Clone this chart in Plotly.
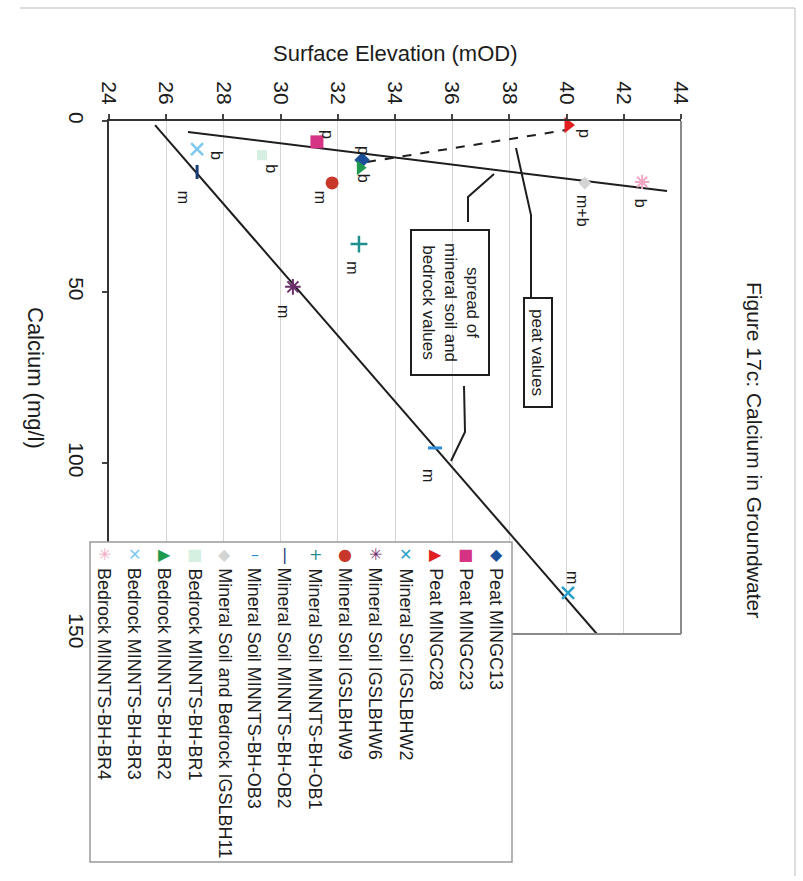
import plotly.graph_objects as go

# ---------------- data ----------------
elev_ticks = [24, 26, 28, 30, 32, 34, 36, 38, 40, 42, 44]
calcium_ticks = [0, 50, 100, 150]

series_names = [
    "Peat MINGC13", "Peat MINGC23", "Peat MINGC28",
    "Mineral Soil IGSLBHW2", "Mineral Soil IGSLBHW6", "Mineral Soil IGSLBHW9",
    "Mineral Soil MINNTS-BH-OB1", "Mineral Soil MINNTS-BH-OB2", "Mineral Soil MINNTS-BH-OB3",
    "Mineral Soil and Bedrock IGSLBH11",
    "Bedrock MINNTS-BH-BR1", "Bedrock MINNTS-BH-BR2", "Bedrock MINNTS-BH-BR3", "Bedrock MINNTS-BH-BR4",
]
series_elevation = [32.85, 31.27, 40.05, 40.05, 30.43, 31.80, 32.74, 27.08, 35.40, 40.64, 29.35, 32.78, 27.08, 42.64]
series_calcium = [11.4, 6.1, 1.2, 138.0, 48.5, 18.1, 36.0, 14.9, 95.6, 18.1, 10.0, 13.7, 8.2, 17.8]
series_tags = ["p", "p", "p", "m", "m", "m", "m", "m", "m", "m+b", "b", "b", "b", "b"]

mineral_trend_elev = [25.61, 41.06]
mineral_trend_ca = [1.2, 150.0]
mb_trend_elev = [26.76, 43.51]
mb_trend_ca = [3.2, 20.5]
peat_link_elev = [33.02, 40.01]
peat_link_ca = [12.0, 2.6]

# ---------------- styles ----------------
symbols = ["diamond", "square", "triangle-right", "x-thin-open", "asterisk-open", "circle",
           "cross-thin-open", "line-ns-open", "line-ew-open", "diamond", "square",
           "triangle-right", "x-thin-open", "asterisk-open"]
colors = ["#1b4f9a", "#d63384", "#e02020", "#2a9fc8", "#6b2c6b", "#c8382a",
          "#1f8f8f", "#1a3d7a", "#2f8ed8", "#d4d4d4", "#d5efe0",
          "#1e9a4e", "#7cc8f0", "#f0a8c4"]
sizes = [12, 13, 14, 12, 13, 13, 12, 10, 10, 10, 10, 13, 12, 12]
line_w = [0, 0, 0, 2.5, 2, 0, 2.5, 3, 3, 0, 0, 0, 2.5, 2]
tag_shift = [(1, 10), (10, 7), (17, -8), (4, 16), (-10, -25), (-12, -14), (-6, -24),
             (-14, -25), (-7, -27), (-3, -28), (10, -13), (3, -10), (20, -6), (-2, -21)]
legend_glyphs = ["◆", "■", "▶", "✕", "✳", "●", "+", "|", "–", "◆", "■", "▶", "✕", "✳"]

FONT = "Liberation Sans, Arial, sans-serif"
TXT = "#1c1c1c"

# plot area in pixels
L, T, R, B = 109, 121, 681, 634
W_FIG, H_FIG = 803, 881


def px(x):
    return (x - L) / (R - L)


def py(y):
    return (B - y) / (B - T)


fig = go.Figure()

# trend lines
fig.add_trace(go.Scatter(x=mineral_trend_elev, y=mineral_trend_ca, mode="lines",
                         line=dict(color="#1e1e1e", width=2), showlegend=False, hoverinfo="skip"))
fig.add_trace(go.Scatter(x=mb_trend_elev, y=mb_trend_ca, mode="lines",
                         line=dict(color="#1e1e1e", width=2), showlegend=False, hoverinfo="skip"))
fig.add_trace(go.Scatter(x=peat_link_elev, y=peat_link_ca, mode="lines",
                         line=dict(color="#1e1e1e", width=2, dash="dash"), showlegend=False,
                         hoverinfo="skip"))

# data points
for i, name in enumerate(series_names):
    fig.add_trace(go.Scatter(
        x=[series_elevation[i]], y=[series_calcium[i]], mode="markers", name=name,
        marker=dict(symbol=symbols[i], color=colors[i], size=sizes[i],
                    line=dict(width=line_w[i], color=colors[i])),
        showlegend=False, cliponaxis=False))

annotations = []
# point tags
for i in range(len(series_names)):
    dx, dy = tag_shift[i]
    annotations.append(dict(x=series_elevation[i], y=series_calcium[i], xref="x", yref="y",
                            text=series_tags[i], showarrow=False, textangle=90,
                            xanchor="center", yanchor="middle",
                            xshift=dx, yshift=dy, font=dict(family=FONT, size=16, color=TXT)))


def paper_text(x, y, text, size, angle=0, **kw):
    d = dict(x=px(x), y=py(y), xref="paper", yref="paper", text=text, showarrow=False,
             textangle=angle, xanchor="center", yanchor="middle",
             font=dict(family=FONT, size=size, color=TXT))
    d.update(kw)
    return d


# titles
annotations.append(paper_text(755, 450, "Figure 17c: Calcium in Groundwater", 21, 90))
annotations.append(paper_text(395, 53, "Surface Elevation (mOD)", 22))
annotations.append(paper_text(36, 378, "Calcium (mg/l)", 22, 90))

# callout boxes text
annotations.append(paper_text(538, 352, "peat values", 17, 90))
annotations.append(paper_text(451, 302, "spread of<br>mineral soil and<br>bedrock values", 17, 90,
                              align="center"))

# legend entries
for i, name in enumerate(series_names):
    cx = 496 - i * 30.15
    annotations.append(paper_text(cx, 566, name, 18, 90, yanchor="top"))
    annotations.append(dict(x=px(cx), y=py(554), xref="paper", yref="paper",
                            text=legend_glyphs[i], showarrow=False, xanchor="center",
                            yanchor="middle",
                            font=dict(family="DejaVu Sans", size=16, color=colors[i])))

shapes = []
# faint outer chart border (top and right edges visible in the scan)
shapes.append(dict(type="line", xref="paper", yref="paper", x0=px(20), x1=px(795),
                   y0=py(8), y1=py(8), line=dict(color="#d2d2d2", width=1.5)))
shapes.append(dict(type="line", xref="paper", yref="paper", x0=px(795), x1=px(795),
                   y0=py(8), y1=py(876), line=dict(color="#d2d2d2", width=1.5)))
# plot frame (right & bottom)
shapes.append(dict(type="line", xref="paper", yref="paper", x0=1, x1=1, y0=0, y1=1,
                   line=dict(color="#8a8a8a", width=2)))
shapes.append(dict(type="line", xref="paper", yref="paper", x0=0, x1=1, y0=0, y1=0,
                   line=dict(color="#8a8a8a", width=2)))


def path_from(points):
    return "M " + " L ".join(f"{px(a):.5f},{py(b):.5f}" for a, b in points)


# callout connectors
for pts in ([(516, 148), (531, 215), (531, 297)],
            [(494, 174), (468, 197), (468, 222)],
            [(464, 386), (465, 432), (451, 461)]):
    shapes.append(dict(type="path", xref="paper", yref="paper", path=path_from(pts),
                       line=dict(color="#1e1e1e", width=2)))
# callout boxes
shapes.append(dict(type="rect", xref="paper", yref="paper", x0=px(524), x1=px(552),
                   y0=py(407), y1=py(298), line=dict(color="#1e1e1e", width=2)))
shapes.append(dict(type="rect", xref="paper", yref="paper", x0=px(411), x1=px(489),
                   y0=py(375), y1=py(230), line=dict(color="#1e1e1e", width=2)))
# legend box
shapes.append(dict(type="rect", xref="paper", yref="paper", x0=px(90), x1=px(512),
                   y0=py(862), y1=py(542), fillcolor="white", layer="above",
                   line=dict(color="#9a9a9a", width=1.5)))

fig.update_layout(
    width=W_FIG, height=H_FIG,
    margin=dict(l=L, r=W_FIG - R, t=T, b=H_FIG - B, pad=0),
    paper_bgcolor="white", plot_bgcolor="white",
    showlegend=False,
    annotations=annotations, shapes=shapes,
    xaxis=dict(range=[24, 44], side="top", tickmode="array", tickvals=elev_ticks,
               ticktext=[str(v) for v in elev_ticks], tickangle=90,
               ticks="outside", ticklen=5, tickcolor="#444", tickwidth=1.5,
               showline=True, linecolor="#333", linewidth=2, mirror=False,
               showgrid=True, gridcolor="#d4d4d4", gridwidth=1, zeroline=False,
               tickfont=dict(family=FONT, size=21, color=TXT), ticklabelstandoff=2),
    yaxis=dict(range=[150, 0], tickmode="array", tickvals=calcium_ticks,
               ticktext=[str(v) for v in calcium_ticks], tickangle=90,
               ticks="outside", ticklen=5, tickcolor="#444", tickwidth=1.5,
               showline=True, linecolor="#333", linewidth=2, mirror=False,
               showgrid=False, zeroline=False,
               tickfont=dict(family=FONT, size=21, color=TXT), ticklabelstandoff=8),
)

fig.write_html("out.html")
